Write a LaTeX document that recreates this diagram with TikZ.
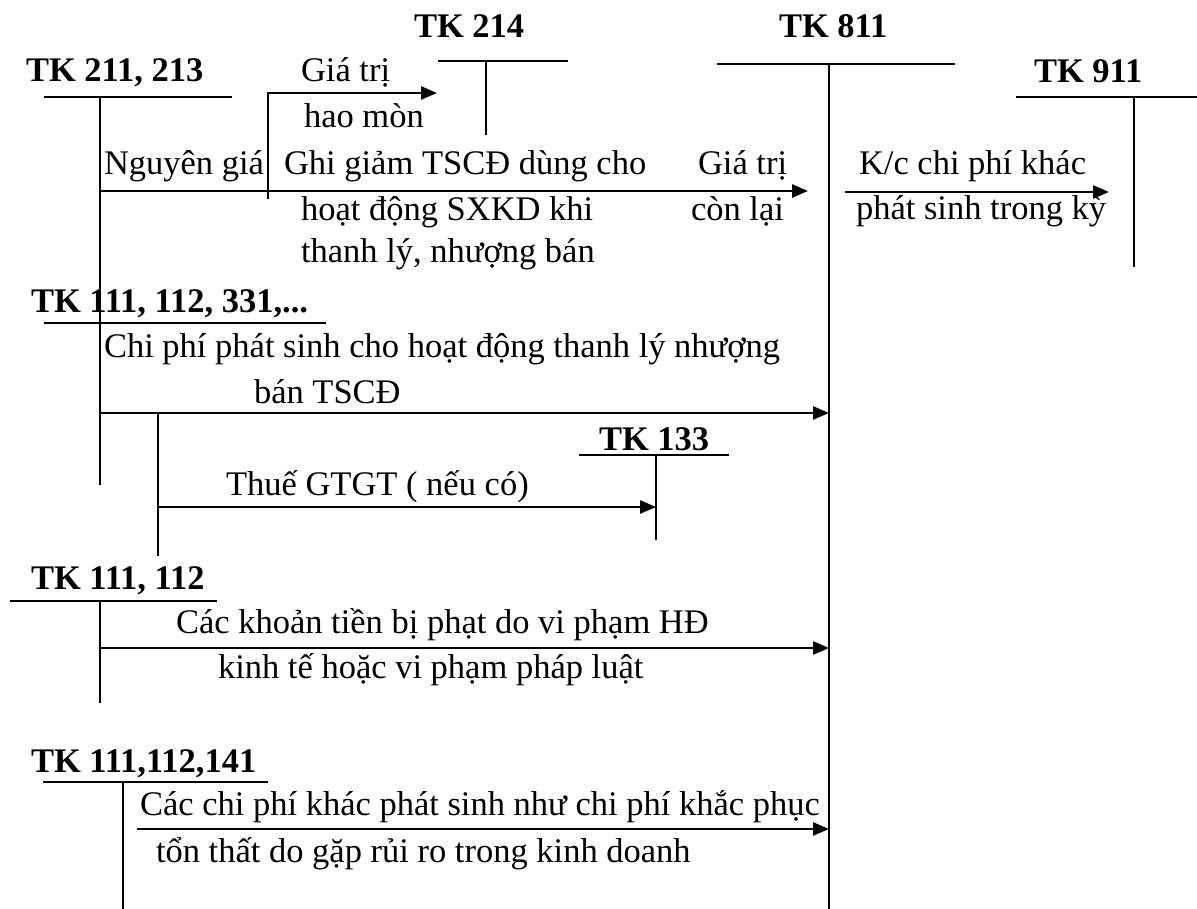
\documentclass[tikz,border=0pt]{standalone}
\usepackage{fontspec}
\setmainfont{Liberation Serif}
\usetikzlibrary{positioning,arrows.meta}

\begin{document}
\begin{tikzpicture}[x=1pt, y=-1pt, line width=2pt,
  every node/.style={font=\fontsize{34.5}{40}\selectfont, inner sep=0pt, anchor=base west},
  tk/.style={font=\fontsize{34.5}{40}\selectfont\bfseries},
  flow/.style={line width=2.6pt, -{Triangle[length=16pt, width=13pt]}}]
  \useasboundingbox (0,0) rectangle (1197,909);
  % account titles
  \node[tk] (n214) at (413,38) {TK 214};
  \node[tk] (n811) at (778,38) {TK 811};
  \node[tk] (n211) at (25,82) {TK 211, 213};
  \node[tk] (n911) at (1033,83) {TK 911};
  \node[tk] (n331) at (30,313) {TK 111, 112, 331,...};
  \node[tk] (n133) at (598,450) {TK 133};
  \node[tk] (n112) at (30,589) {TK 111, 112};
  \node[tk] (n141) at (30,772) {TK 111,112,141};
  % T lines
  \coordinate (h211a) at (44,97);   \coordinate (h211b) at (232,97);
  \coordinate (v211a) at (100,97);  \coordinate (v211b) at (100,485);
  \coordinate (h214a) at (438,61);  \coordinate (h214b) at (568,61);
  \coordinate (v214a) at (486,61);  \coordinate (v214b) at (486,135);
  \coordinate (h811a) at (717,64);  \coordinate (h811b) at (955,64);
  \coordinate (v811a) at (829,64);  \coordinate (v811b) at (829,909);
  \coordinate (h911a) at (1016,97); \coordinate (h911b) at (1197,97);
  \coordinate (v911a) at (1134,97); \coordinate (v911b) at (1134,267);
  \coordinate (h331a) at (44,323);  \coordinate (h331b) at (326,323);
  \coordinate (h133a) at (579,455); \coordinate (h133b) at (729,455);
  \coordinate (v133a) at (656,455); \coordinate (v133b) at (656,540);
  \coordinate (h112a) at (10,601);  \coordinate (h112b) at (217,601);
  \coordinate (v112a) at (100,601); \coordinate (v112b) at (100,703);
  \coordinate (h141a) at (43,782);  \coordinate (h141b) at (268,782);
  \coordinate (v141a) at (123,782); \coordinate (v141b) at (123,909);
  \foreach \t in {211,214,811,911,133,112,141} {
    \draw (h\t a) -- (h\t b);
    \draw (v\t a) -- (v\t b);
  }
  \draw (h331a) -- (h331b);
  % entries
  \coordinate (hmA) at (268,199); \coordinate (hmB) at (268,93); \coordinate (hmC) at (437,93);
  \draw[flow] (hmA) -- (hmB) -- (hmC);
  \coordinate (ngA) at (100,191); \coordinate (ngB) at (808,191);
  \draw[flow] (ngA) -- (ngB);
  \coordinate (kcA) at (845,192); \coordinate (kcB) at (1109,192);
  \draw[flow] (kcA) -- (kcB);
  \coordinate (cpA) at (100,413); \coordinate (cpB) at (829,413);
  \draw[flow] (cpA) -- (cpB);
  \coordinate (gtA) at (158,413); \coordinate (gtB) at (158,556); \coordinate (gtC) at (158,507);
  \draw (gtA) -- (gtB);
  \draw[flow] (gtC) -- (v133a |- gtC);
  \coordinate (phA) at (100,648); \coordinate (phB) at (829,648);
  \draw[flow] (phA) -- (phB);
  \coordinate (tsA) at (137,829); \coordinate (tsB) at (829,829);
  \draw[flow] (tsA) -- (tsB);
  % labels
  \node (l1) at (300,82) {Giá trị};
  \node (l2) at (303,128) {hao mòn};
  \node (l3) at (103,175) {Nguyên giá};
  \node (l4) at (283,175) {Ghi giảm TSCĐ dùng cho};
  \node (l5) at (300,221) {hoạt động SXKD khi};
  \node (l6) at (300,263) {thanh lý, nhượng bán};
  \node (l7) at (697,175) {Giá trị};
  \node (l8) at (690,221) {còn lại};
  \node (l9) at (858,175) {K/c chi phí khác};
  \node (l10) at (855,220) {phát sinh trong kỳ};
  \node (l11) at (103,358) {Chi phí phát sinh cho hoạt động thanh lý nhượng};
  \node (l12) at (253,403) {bán TSCĐ};
  \node (l13) at (225,495) {Thuế GTGT ( nếu có)};
  \node (l14) at (175,633) {Các khoản tiền bị phạt do vi phạm HĐ};
  \node (l15) at (217,678) {kinh tế hoặc vi phạm pháp luật};
  \node (l16) at (139,815) {Các chi phí khác phát sinh như chi phí khắc phục};
  \node (l17) at (155,862) {tổn thất do gặp rủi ro trong kinh doanh};
\end{tikzpicture}
\end{document}
